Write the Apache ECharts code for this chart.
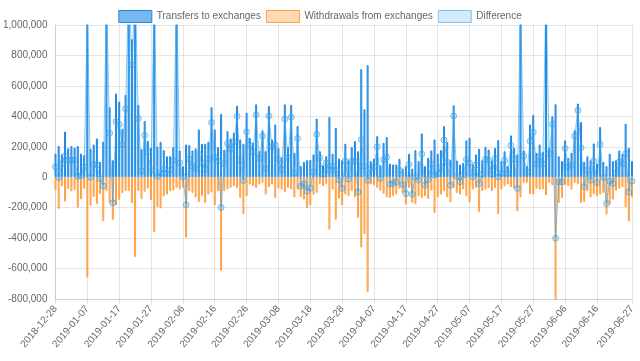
<!DOCTYPE html>
<html>
<head>
<meta charset="utf-8">
<script src="https://cdn.jsdelivr.net/npm/echarts@6/dist/echarts.min.js"></script>
<style>
html,body{margin:0;padding:0;background:#fff;}
#chart{width:640px;height:361px;}
</style>
</head>
<body>
<div id="chart"></div>
<script>
// Category range (daily)
const startDate = '2018-12-28';
const dayCount = 182;
const tickLabels = ['2018-12-28','2019-01-07','2019-01-17','2019-01-27','2019-02-06','2019-02-16','2019-02-26','2019-03-08','2019-03-18','2019-03-28','2019-04-07','2019-04-17','2019-04-27','2019-05-07','2019-05-17','2019-05-27','2019-06-06','2019-06-16','2019-06-27'];

const transfers = [
155000,205000,150000,300000,190000,205000,195000,205000,155000,145000,
1750000,187000,215000,255000,100000,233000,1300000,460000,112000,550000,
497000,318000,540000,1400000,907000,1800000,475000,185000,370000,240000,
195000,1600000,200000,233000,178000,138000,138000,198000,1300000,176000,
73000,215000,211000,176000,189000,314000,220000,220000,233000,460000,
314000,198000,416000,182000,303000,255000,292000,470000,248000,220000,
424000,259000,226000,479000,171000,308000,171000,468000,248000,347000,
193000,130000,479000,198000,475000,160000,336000,73000,101000,112000,
114000,150000,385000,171000,79000,138000,396000,154000,325000,123000,
112000,220000,112000,198000,237000,171000,710000,446000,736000,106000,
123000,270000,79000,226000,264000,90000,84000,84000,121000,55000,
73000,154000,57000,178000,106000,288000,73000,128000,176000,248000,
154000,178000,336000,231000,112000,473000,110000,84000,95000,242000,
259000,84000,150000,187000,112000,200000,182000,110000,193000,244000,
106000,171000,73000,275000,193000,150000,1300000,176000,73000,347000,
409000,160000,215000,167000,1400000,193000,400000,479000,138000,106000,
242000,128000,160000,308000,484000,363000,101000,138000,112000,222000,
90000,330000,101000,73000,154000,106000,112000,176000,154000,352000,
193000,106000
];

const withdrawals = [
-86000,-207000,-60000,-160000,-78000,-93000,-83000,-200000,-145000,-77000,
-660000,-188000,-130000,-175000,-110000,-290000,-90000,-170000,-280000,-185000,
-150000,-105000,-90000,-90000,-170000,-525000,-90000,-145000,-95000,-75000,
-150000,-360000,-195000,-205000,-125000,-114000,-92000,-88000,-70000,-81000,
-70000,-396000,-92000,-103000,-132000,-163000,-125000,-169000,-114000,-100000,
-185000,-92000,-615000,-92000,-81000,-70000,-59000,-70000,-136000,-242000,
-125000,-48000,-59000,-70000,-48000,-37000,-114000,-66000,-48000,-136000,
-75000,-81000,-97000,-70000,-81000,-132000,-81000,-132000,-147000,-202000,
-185000,-114000,-103000,-44000,-59000,-44000,-345000,-81000,-279000,-141000,
-185000,-114000,-125000,-92000,-132000,-268000,-462000,-374000,-756000,-48000,
-53000,-70000,-88000,-110000,-132000,-136000,-125000,-114000,-75000,-103000,
-180000,-70000,-169000,-176000,-125000,-136000,-125000,-143000,-88000,-235000,
-132000,-114000,-92000,-132000,-165000,-70000,-103000,-114000,-81000,-125000,
-165000,-81000,-70000,-229000,-92000,-81000,-70000,-92000,-70000,-242000,
-81000,-59000,-48000,-66000,-75000,-224000,-132000,-37000,-37000,-110000,
-114000,-75000,-81000,-81000,-119000,-37000,-53000,-880000,-169000,-136000,
-53000,-59000,-81000,-37000,-44000,-169000,-163000,-92000,-132000,-114000,
-125000,-114000,-103000,-246000,-180000,-147000,-88000,-75000,-66000,-198000,
-290000,-132000
];

// Difference = transfers + withdrawals (withdrawals are negative)
const difference = transfers.map((t, i) => t + withdrawals[i]);

const dates = [];
(function(){
  const p = startDate.split('-').map(Number);
  const t0 = Date.UTC(p[0], p[1]-1, p[2]);
  for (let i = 0; i < dayCount; i++) {
    dates.push(new Date(t0 + i*86400000).toISOString().slice(0,10));
  }
})();

const tickFn = (idx) => tickLabels.indexOf(dates[idx]) !== -1;
const fmt = v => String(v).replace(/\B(?=(\d{3})+(?!\d))/g, ',');

const chart = echarts.init(document.getElementById('chart'), null, {renderer:'canvas'});
chart.setOption({
  animation: false,
  textStyle: {fontFamily: 'Liberation Sans, Arial, sans-serif'},
  legend: {
    top: 5,
    left: 'center',
    itemWidth: 33,
    itemHeight: 12,
    itemGap: 5,
    icon: 'rect',
    textStyle: {color: '#666', fontSize: 10},
    data: [
      {name: 'Transfers to exchanges', itemStyle: {color: 'rgba(30,136,229,0.6)', borderColor: '#1e88e5', borderWidth: 1}},
      {name: 'Withdrawals from exchanges', itemStyle: {color: 'rgba(255,159,64,0.4)', borderColor: 'rgb(255,159,64)', borderWidth: 1}},
      {name: 'Difference', itemStyle: {color: 'rgba(54,162,235,0.22)', borderColor: 'rgba(54,162,235,0.6)', borderWidth: 1}}
    ]
  },
  grid: {left: 55, right: 8, top: 25, bottom: 62, containLabel: false},
  xAxis: {
    type: 'category',
    data: dates,
    boundaryGap: false,
    axisLine: {show: true, onZero: false, lineStyle: {color: 'rgba(0,0,0,0.1)'}},
    axisTick: {show: true, length: 5, interval: tickFn, lineStyle: {color: 'rgba(0,0,0,0.1)'}},
    axisLabel: {interval: tickFn, rotate: 50, color: '#666', fontSize: 10, margin: 8},
    splitLine: {show: true, interval: tickFn, lineStyle: {color: 'rgba(0,0,0,0.1)'}}
  },
  yAxis: {
    type: 'value',
    min: -800000,
    max: 1000000,
    interval: 200000,
    axisLine: {show: true, lineStyle: {color: 'rgba(0,0,0,0.1)'}},
    axisTick: {show: false},
    axisLabel: {color: '#666', fontSize: 10, margin: 8, formatter: fmt},
    splitLine: {show: true, lineStyle: {color: 'rgba(0,0,0,0.1)'}}
  },
  series: [
    {
      name: 'Transfers to exchanges',
      type: 'bar',
      data: transfers,
      barWidth: 2,
      barGap: '-100%',
      clip: true,
      itemStyle: {color: 'rgba(30,136,229,0.6)', borderColor: '#1e88e5', borderWidth: 1},
      z: 2
    },
    {
      name: 'Withdrawals from exchanges',
      type: 'bar',
      data: withdrawals,
      barWidth: 2,
      barGap: '-100%',
      clip: true,
      itemStyle: {color: 'rgba(255,159,64,0.5)', borderColor: 'rgb(255,159,64)', borderWidth: 1},
      z: 2
    },
    {
      name: 'Difference',
      type: 'line',
      data: difference,
      clip: true,
      showAllSymbol: true,
      symbol: 'circle',
      symbolSize: 6,
      itemStyle: {color: 'rgba(54,162,235,0.25)', borderColor: 'rgba(54,162,235,0.6)', borderWidth: 1},
      lineStyle: {color: 'rgba(54,162,235,0.55)', width: 1},
      areaStyle: {color: 'rgba(54,162,235,0.22)'},
      z: 3
    }
  ]
});
</script>
</body>
</html>
